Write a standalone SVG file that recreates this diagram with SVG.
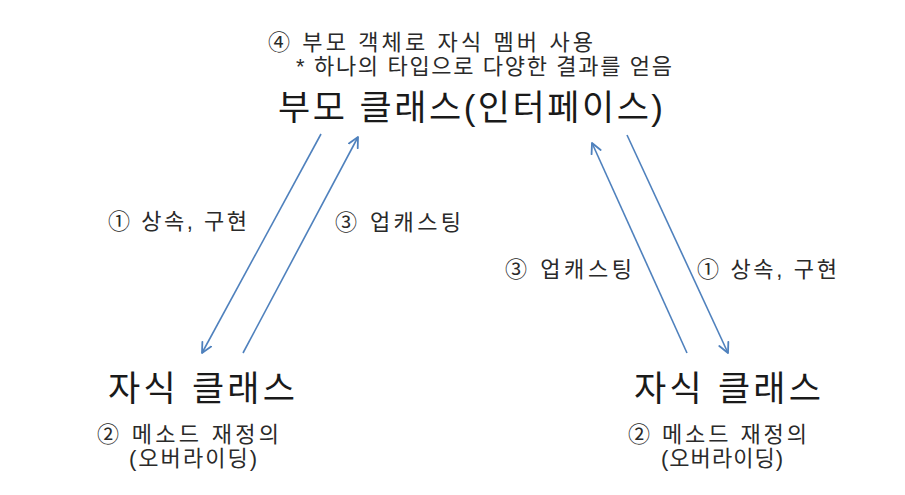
<svg xmlns="http://www.w3.org/2000/svg" width="905" height="495" viewBox="0 0 905 495">
  <style>
    text { font-family: 'Liberation Sans', 'Noto Sans CJK KR', sans-serif; fill: #1a1a1a; }
    .big { font-size: 35px; }
    .small { font-size: 22px; fill: #2a2a2a; }
    .conn { stroke: #4f81bd; stroke-width: 1.6; fill: none; marker-end: url(#arr); }
  </style>
  <defs>
    <marker id="arr" markerUnits="userSpaceOnUse" markerWidth="14" markerHeight="14" refX="11" refY="6" orient="auto" viewBox="0 0 14 12">
      <path d="M1,1 L11,6 L1,11" fill="none" stroke="#4f81bd" stroke-width="1.8" stroke-linecap="round" stroke-linejoin="round"/>
    </marker>
  </defs>
  <rect width="905" height="495" fill="#ffffff"/>

  <g id="parent">
    <text class="small" x="268" y="50" textLength="325" lengthAdjust="spacing">④ 부모 객체로 자식 멤버 사용</text>
    <text class="small" x="296" y="74" textLength="376" lengthAdjust="spacing">* 하나의 타입으로 다양한 결과를 얻음</text>
    <text class="big" x="278" y="120" textLength="385" lengthAdjust="spacing">부모 클래스(인터페이스)</text>
  </g>

  <g id="child-left">
    <text class="big" x="108" y="401" textLength="187" lengthAdjust="spacing">자식 클래스</text>
    <text class="small" x="97" y="442" textLength="182" lengthAdjust="spacing">② 메소드 재정의</text>
    <text class="small" x="129" y="466" textLength="128" lengthAdjust="spacing">(오버라이딩)</text>
  </g>

  <g id="child-right">
    <text class="big" x="634" y="401" textLength="187" lengthAdjust="spacing">자식 클래스</text>
    <text class="small" x="628" y="442" textLength="179" lengthAdjust="spacing">② 메소드 재정의</text>
    <text class="small" x="661" y="466" textLength="122" lengthAdjust="spacing">(오버라이딩)</text>
  </g>

  <g id="connectors">
    <line class="conn" x1="321" y1="134" x2="202" y2="353"/>
    <line class="conn" x1="243" y1="353" x2="358" y2="137"/>
    <line class="conn" x1="687" y1="353" x2="592" y2="143"/>
    <line class="conn" x1="627" y1="135" x2="728" y2="353"/>
  </g>

  <g id="connector-labels">
    <text class="small" x="108" y="229" textLength="139" lengthAdjust="spacing">① 상속, 구현</text>
    <text class="small" x="335" y="230" textLength="126" lengthAdjust="spacing">③ 업캐스팅</text>
    <text class="small" x="505" y="277" textLength="127" lengthAdjust="spacing">③ 업캐스팅</text>
    <text class="small" x="697" y="277" textLength="140" lengthAdjust="spacing">① 상속, 구현</text>
  </g>
</svg>
